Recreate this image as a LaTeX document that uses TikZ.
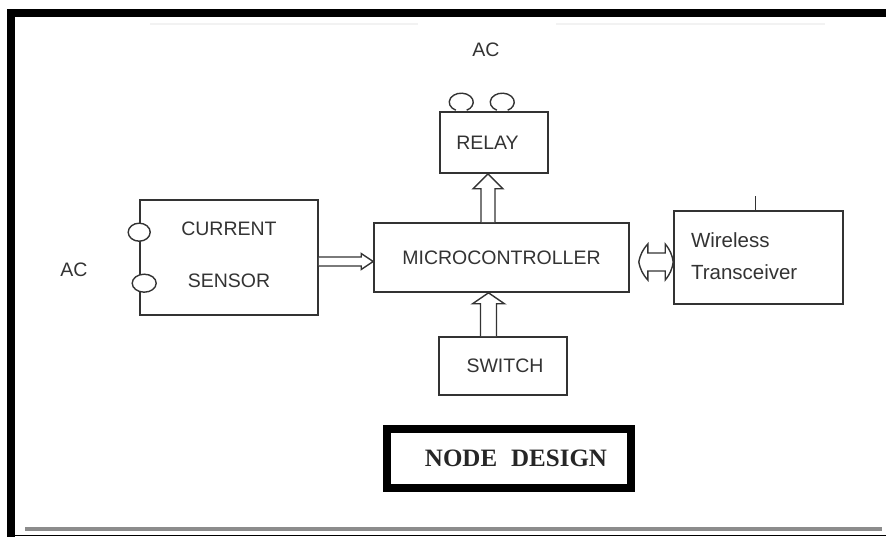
\documentclass[tikz,border=0pt]{standalone}
\usepackage{fontspec}
\setmainfont{Liberation Serif}
\newfontfamily\labfont{Liberation Sans}
\usetikzlibrary{calc}
\definecolor{ink}{HTML}{333333}
\tikzset{
  box/.style={draw=ink, line width=1.6pt, inner sep=0pt, text=ink,
    font=\labfont\fontsize{19.5}{23}\selectfont},
  lbl/.style={inner sep=0pt, text=ink, font=\labfont\fontsize{19.5}{23}\selectfont},
  blockarrow/.style={draw=ink, line width=1.4pt, fill=white, line join=miter},
  bump/.style={draw=ink, line width=1.4pt, fill=white},
}
\begin{document}
\begin{tikzpicture}[x=1pt,y=-1pt]
\useasboundingbox (0,0) rectangle (886,537);
% frame
\fill[black] (7,9) rectangle (886,17);
\fill[black] (7,9) rectangle (15,537);
\fill[black!45] (25,527) rectangle (882,531);
\draw[black, line width=1pt] (15,535.5) -- (886,535.5);
\draw[black!5, line width=2pt] (150,24) -- (418,24) (556,24) -- (825,24);

% blocks
\node[box, minimum width=108pt, minimum height=61pt] (relay) at (494,142.5) {RELAY\hspace*{13pt}};
\node[box, minimum width=255pt, minimum height=69pt] (mcu) at (501.5,257.5) {MICROCONTROLLER};
\node[box, minimum width=178pt, minimum height=115pt, align=center] (sensor) at (229,257.5)
  {\raisebox{5pt}{CURRENT}\\[29pt]\raisebox{5pt}{SENSOR}};
\node[box, minimum width=169pt, minimum height=93pt, text width=135pt, align=left,
  font=\labfont\fontsize{20.5}{25}\selectfont] (wireless) at (758.5,257.5)
  {\raisebox{3pt}{Wireless}\\[7pt]\raisebox{3pt}{Transceiver}};
\node[box, minimum width=128pt, minimum height=58pt] (switch) at (503,366) {SWITCH\hspace*{-4pt}};
\node[draw=black, line width=8pt, minimum width=244pt, minimum height=59pt, inner sep=0pt,
  font=\fontsize{25}{30}\selectfont\bfseries, text=black!85] (title) at (509,458.5)
  {\hspace*{14pt}NODE\hspace{14pt}DESIGN};

% labels
\node[lbl] (acTop) at (486,50) {AC};
\node[lbl] (acLeft) at (74,270) {AC};

% relay terminals
\draw[bump] ($(relay.north west)+(22,-9)$) ++(-5.4,8) arc[start angle=117, end angle=423, x radius=12, y radius=9];
\draw[bump] ($(relay.north west)+(63,-9)$) ++(-5.4,8) arc[start angle=117, end angle=423, x radius=12, y radius=9];

% sensor terminals
\draw[bump] ($(sensor.north west)+(0,33)$) ellipse[x radius=11, y radius=9];
\draw[bump] ($(sensor.north west)+(5,84)$) ellipse[x radius=12, y radius=9];

% antenna tick
\draw[ink, line width=1.4pt] ($(wireless.north)+(-3,0)$) -- ($(wireless.north)+(-3,-14)$);

% sensor -> mcu
\coordinate (s1) at ($(sensor.east)+(0,4)$);
\coordinate (s2) at ($(mcu.west)+(0,4)$);
\draw[blockarrow] ($(s1)+(0,-4.5)$) -- ($(s2)+(-12,-4.5)$) -- ($(s2)+(-12,-8)$) -- (s2)
  -- ($(s2)+(-12,8)$) -- ($(s2)+(-12,4.5)$) -- ($(s1)+(0,4.5)$);

% mcu -> relay
\coordinate (r1) at ($(mcu.north)+(-13.5,0)$);
\coordinate (r2) at ($(relay.south)+(-6,0)$);
\draw[blockarrow] ($(r1)+(-7,0)$) -- ($(r2)+(-7,15)$) -- ($(r2)+(-15,15)$) -- (r2)
  -- ($(r2)+(15,15)$) -- ($(r2)+(7,15)$) -- ($(r1)+(7,0)$);

% switch -> mcu
\coordinate (w1) at ($(switch.north)+(-14.5,0)$);
\coordinate (w2) at ($(mcu.south)+(-13,0)$);
\draw[blockarrow] ($(w1)+(-8,0)$) -- ($(w2)+(-8,11)$) -- ($(w2)+(-16,11)$) -- (w2)
  -- ($(w2)+(16,11)$) -- ($(w2)+(8,11)$) -- ($(w1)+(8,0)$);

% mcu <-> wireless
\coordinate (d1) at ($(mcu.east)+(9,4.5)$);
\coordinate (d2) at ($(wireless.west)+(0,4.5)$);
\draw[blockarrow] (d1) to[bend left=15] ($(d1)+(9,-18)$) -- ($(d1)+(9,-9)$) -- ($(d2)+(-8,-9)$)
  -- ($(d2)+(-8,-18)$) to[bend left=15] (d2) to[bend left=15] ($(d2)+(-8,18)$) -- ($(d2)+(-8,9)$)
  -- ($(d1)+(9,9)$) -- ($(d1)+(9,18)$) to[bend left=15] cycle;
\end{tikzpicture}
\end{document}
